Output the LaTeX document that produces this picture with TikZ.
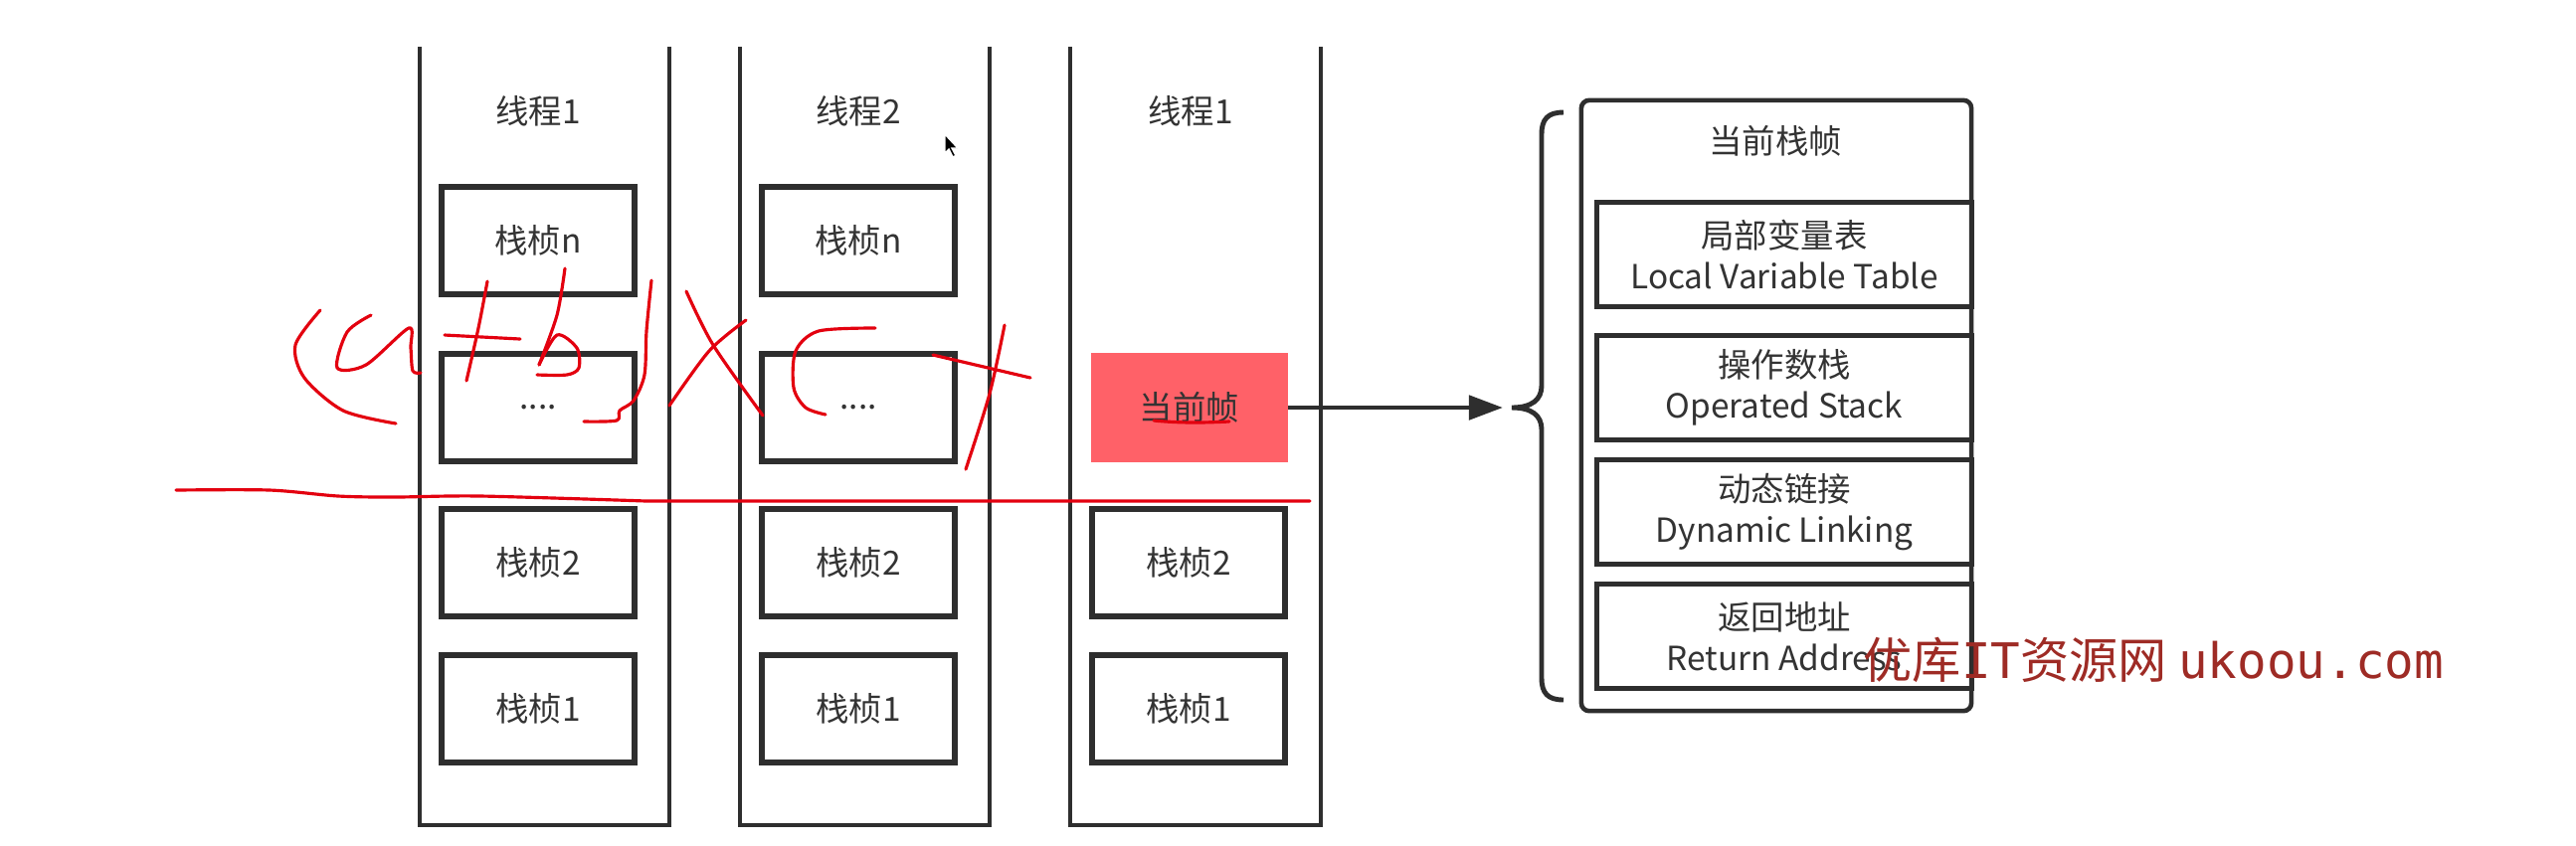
\documentclass[tikz,border=0pt]{standalone}
\usepackage{fontspec}
\newfontfamily\cjk{Noto Sans CJK SC}
\newfontfamily\wmono{DejaVu Sans Mono}
\usetikzlibrary{arrows.meta}
\definecolor{txtgray}{HTML}{333333}
\definecolor{linegray}{HTML}{2E2E2E}
\definecolor{curred}{HTML}{FF6168}
\definecolor{penred}{HTML}{E3000F}
\definecolor{wmred}{HTML}{9E2B25}
\begin{document}
\begin{tikzpicture}[x=0.01cm, y=-0.01cm,
  every node/.style={font=\cjk\fontsize{9.5}{11.8}\selectfont, text=txtgray},
  col/.style={draw=linegray, line width=1.3pt},
  fbox/.style={draw=linegray, line width=1.5pt, minimum width=1.94cm, minimum height=1.08cm, inner sep=0pt},
  part/.style={draw=linegray, line width=1.4pt, minimum width=3.76cm, minimum height=1.05cm, inner sep=0pt, align=center},
  pen/.style={draw=penred, line width=0.9pt, line cap=round, line join=round}]
  \useasboundingbox (0,0) rectangle (2590,850);

  % thread columns
  \draw[col] (422,47) -- (422,830) -- (673,830) -- (673,47);
  \draw[col] (744,47) -- (744,830) -- (995,830) -- (995,47);
  \draw[col] (1076,47) -- (1076,830) -- (1328,830) -- (1328,47);

  \node (t1) at (541,112) {线程1};
  \node[fbox] (s1n) at (541,242) {栈桢n};
  \node[fbox] (s1d) at (541,410) {....};
  \node[fbox] (s12) at (541,566) {栈桢2};
  \node[fbox] (s11) at (541,713) {栈桢1};

  \node (t2) at (863,112) {线程2};
  \node[fbox] (s2n) at (863,242) {栈桢n};
  \node[fbox] (s2d) at (863,410) {....};
  \node[fbox] (s22) at (863,566) {栈桢2};
  \node[fbox] (s21) at (863,713) {栈桢1};

  \node (t3) at (1197,112) {线程1};
  \node[fill=curred, minimum width=1.97cm, minimum height=1.09cm, inner sep=0pt] (cur) at (1196,410) {当前帧};
  \node[fbox] (s32) at (1195,566) {栈桢2};
  \node[fbox] (s31) at (1195,713) {栈桢1};

  % current frame
  \coordinate (tip) at (1511,410);
  \draw[-{Triangle[length=0.34cm, width=0.24cm]}, draw=linegray, line width=1.4pt] (cur.east) -- (tip);
  \draw[linegray, line width=1.4pt] (1572,113) .. controls (1556,113) and (1550,120) .. (1550,135)
    -- (1550,388) .. controls (1550,402) and (1540,410) .. (1520,410)
    .. controls (1540,410) and (1550,418) .. (1550,432)
    -- (1550,682) .. controls (1550,697) and (1556,704) .. (1572,704);

  \node[draw=linegray, line width=1.3pt, rounded corners=0.08cm, minimum width=3.92cm, minimum height=6.14cm] (frame) at (1786,408) {};
  \node (ftitle) at (1785,142) {当前栈帧};
  \node[part] (lvt) at (1794,256) {局部变量表\\Local Variable Table};
  \node[part] (ops) at (1794,390) {操作数栈\\Operated Stack};
  \node[part] (dyn) at (1794,515) {动态链接\\Dynamic Linking};
  \node[part] (ret) at (1794,640) {返回地址\\Return Address};

  \node[anchor=west, inner sep=0pt, text=wmred, font=\cjk\fontsize{14}{16}\selectfont] (wm) at (1873,664) {优库{\wmono IT}资源网 {\wmono ukoou.com}};

  % pen marks
  \draw[pen] plot[smooth] coordinates {(322,312) (297,347) (306,380) (345,413) (398,426)};
  \draw[pen] plot[smooth] coordinates {(373,317) (349,334) (339,370) (368,367) (411,330) (413,350) (415,373) (423,375)};
  \draw[pen] (447,337) -- (523,341);
  \draw[pen] plot[smooth] coordinates {(490,283) (481,330) (469,383)};
  \draw[pen] plot[smooth] coordinates {(568,270) (560,317) (542,367)};
  \draw[pen] plot[smooth] coordinates {(542,367) (560,337) (580,350) (582,370) (570,377) (540,377)};
  \draw[pen] plot[smooth] coordinates {(655,282) (650,333) (648,377) (637,403) (623,413) (620,423) (587,424)};
  \draw[pen] plot[smooth] coordinates {(690,293) (717,347) (767,418)};
  \draw[pen] plot[smooth] coordinates {(750,322) (713,353) (673,408)};
  \draw[pen] plot[smooth] coordinates {(880,330) (823,333) (800,353) (798,390) (810,410) (830,417)};
  \draw[pen] (938,357) -- (1036,380);
  \draw[pen] plot[smooth] coordinates {(1010,327) (995,396) (971,472)};
  \draw[pen] (1160,423) .. controls (1190,426) and (1215,425) .. (1236,424);
  \draw[pen] plot[smooth] coordinates {(177,493) (271,493) (340,499) (397,500) (483,499) (650,504)} -- (1317,504);

  % pointer
  \draw[fill=black, draw=white, line width=0.4pt] (950,135) -- ++(0,19) -- ++(4,-4) -- ++(4,8) -- ++(3,-1.5) -- ++(-4,-7.5) -- ++(6,0) -- cycle;
\end{tikzpicture}
\end{document}
